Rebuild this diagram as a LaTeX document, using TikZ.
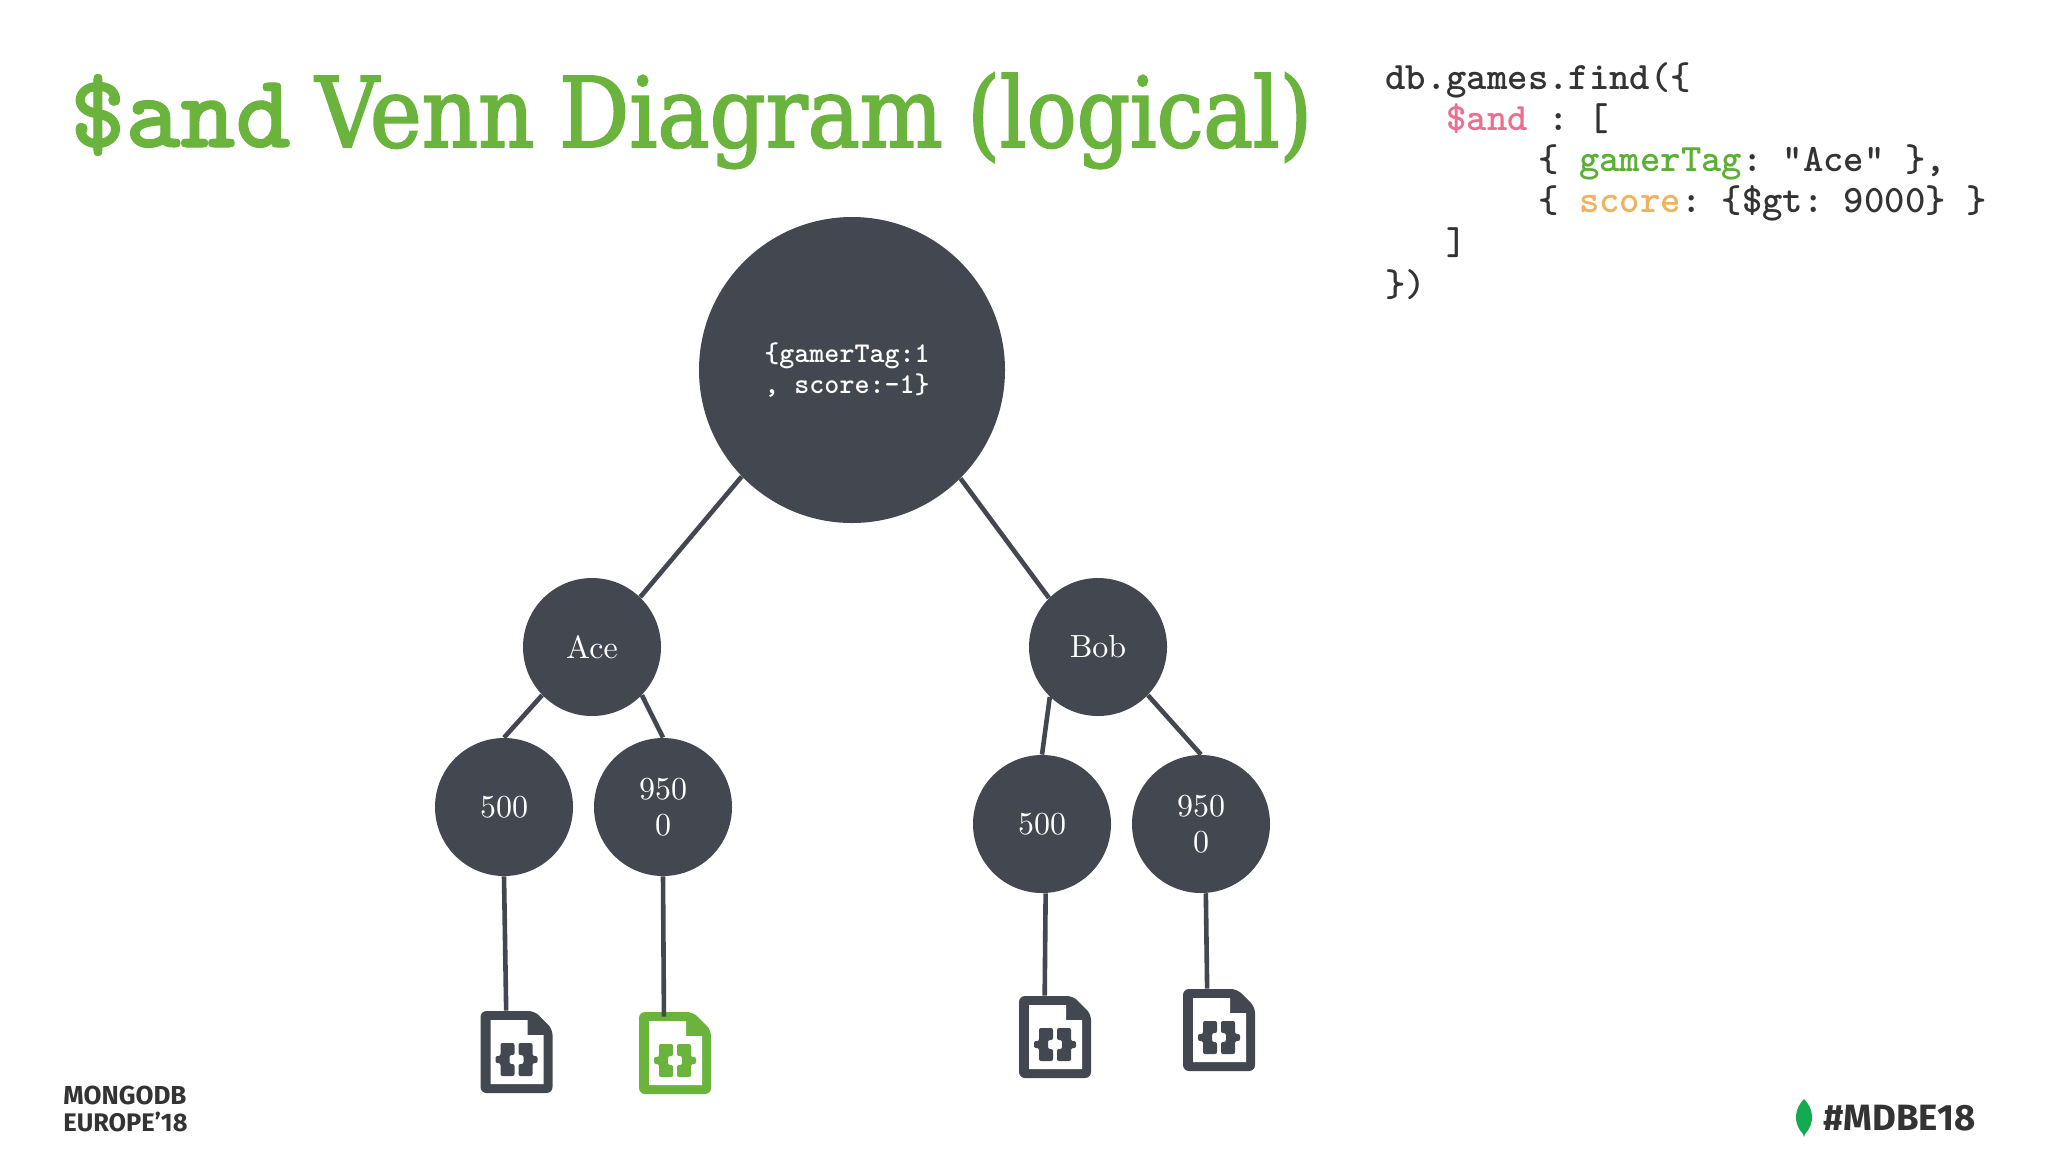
\documentclass[tikz,border=0pt]{standalone}
\usepackage{fontspec}
\newfontfamily\logofont{Fira Sans}
\newfontfamily\slabfont[FakeBold=2]{DejaVu Serif Condensed}
\newfontfamily\labelfont[Extension=.otf]{lmroman10-regular}
\newfontfamily\codefont[Extension=.otf]{lmmonolt10-bold}
\newfontfamily\heavyfont[Extension=.otf,FakeBold=1]{lmmonolt10-bold}
\definecolor{slate}{HTML}{43474F}
\definecolor{leafgreen}{HTML}{6AB43E}
\definecolor{codeink}{HTML}{333333}
\definecolor{codepink}{HTML}{EC6F8E}
\definecolor{codegreen}{HTML}{5BAF35}
\definecolor{codeorange}{HTML}{F0B25E}
\definecolor{mongoleaf}{HTML}{13AA52}
\tikzstyle{every picture}+=[>=latex, x=0.5pt, y=-0.5pt]
\tikzstyle{bignode}=[circle, fill=slate, text=white, minimum size=153pt, inner sep=0pt, align=left, font=\codefont\frenchspacing\fontsize{14.3}{15.5}\selectfont]
\tikzstyle{keynode}=[circle, fill=slate, text=white, minimum size=69pt, inner sep=0pt, align=center, font=\labelfont\fontsize{16}{18}\selectfont]
\tikzstyle{docbox}=[rectangle, minimum width=36pt, minimum height=41pt, inner sep=0pt]
\tikzstyle{link}=[slate, line width=2.3pt]
\tikzstyle{codeline}=[anchor=base west, inner sep=0pt, text=codeink, font=\codefont\frenchspacing\fontsize{19.4}{20}\selectfont]
\tikzstyle{logotext}=[anchor=base west, inner sep=0pt, text=codeink, font=\logofont\bfseries]

\begin{document}
\begin{tikzpicture}
	\newcommand\docicon[4]{
		\node[docbox] (#1) at (#2,#3) {} ;
		\begin{scope}[shift={(#1.center)}]
			\fill[#4, rounded corners=3pt] (-36,-41) -- (18,-41) -- (36,-23) -- (36,41) -- (-36,41) -- cycle ;
			\fill[white] (-26,-32) -- (11,-32) -- (11,-17) -- (27,-17) -- (27,32) -- (-26,32) -- cycle ;
			\foreach \side in {-1,1} {
				\fill[#4, xscale=\side, rounded corners=1pt] (2,-9) -- (16,-9) -- (16,4) -- (21,4) -- (21,11) -- (16,11) -- (16,24) -- (2,24) -- (2,12) -- (7,12) -- (7,3) -- (2,3) -- cycle ;
			}
		\end{scope}
	}
	\useasboundingbox (0,0) rectangle (2048,1152) ;
	\fill[white] (0,0) rectangle (2048,1152) ;

	\node[anchor=base west, inner sep=0pt, text=leafgreen] (title) at (70,147) {\fontsize{52.4}{56}\selectfont\heavyfont \$and} ;
	\node[anchor=base west, inner sep=0pt, text=leafgreen] (titleb) at (315,147) {\fontsize{48.7}{56}\selectfont\slabfont\spaceskip=12.3pt Venn Diagram \scalebox{0.95}[1]{(logical)}} ;

	\node[codeline] (codeA) at (1385,89) {db.games.find(\{} ;
	\node[codeline] (codeB) at (1446,130) {\textcolor{codepink}{\$and} : [} ;
	\node[codeline] (codeC) at (1538,171) {\{ \textcolor{codegreen}{gamerTag}: "Ace" \},} ;
	\node[codeline] (codeD) at (1538,212) {\{ \textcolor{codeorange}{score}: \{\$gt: 9000\} \}} ;
	\node[codeline] (codeE) at (1446,254) {]} ;
	\node[codeline] (codeF) at (1385,296) {\})} ;

	\node[bignode] (root) at (852,370) {\{gamerTag:1\hspace*{5pt}\\, score:-1\}\hspace*{5pt}} ;
	\node[keynode] (ace) at (592,647) {Ace} ;
	\node[keynode] (bob) at (1098,647) {Bob} ;
	\node[keynode] (leafA) at (504,807) {500} ;
	\node[keynode] (leafB) at (663,807) {950\\0} ;
	\node[keynode] (leafC) at (1042,824) {500} ;
	\node[keynode] (leafD) at (1201,824) {950\\0} ;

	\docicon{docA}{516.5}{1052}{slate}
	\docicon{docB}{675}{1053}{leafgreen}
	\docicon{docC}{1055}{1037}{slate}
	\docicon{docD}{1219}{1030}{slate}

	\draw[link] (root.224) -- (ace.46) ;
	\draw[link] (root.-45) -- (bob.135) ;
	\draw[link] (ace.224) -- (leafA.north) ;
	\draw[link] (ace.-44) -- (leafB.north) ;
	\draw[link] (bob.226) -- (leafC.north) ;
	\draw[link] (bob.-44) -- (leafD.north) ;
	\draw[link] (leafA.south) -- (docA.104) ;
	\draw[link, shorten >=-2.5pt] (leafB.south) -- (docB.105) ;
	\draw[link] (leafC.-87) -- (docC.104) ;
	\draw[link] (leafD.-86) -- (docD.106) ;

	\node[logotext, font=\logofont\bfseries\fontsize{13}{13}\selectfont] (logoA) at (63,1104) {MONGODB} ;
	\node[logotext, font=\logofont\bfseries\fontsize{12.7}{13}\selectfont] (logoB) at (63,1131) {EUROPE’18} ;
	\fill[mongoleaf] (1804,1099) .. controls (1795,1108) and (1792,1122) .. (1803,1134) -- (1804,1137) -- (1805,1134) .. controls (1816,1122) and (1813,1108) .. (1804,1099) -- cycle ;
	\node[logotext, font=\logofont\bfseries\fontsize{18.3}{18}\selectfont] (hashtag) at (1823,1130) {\#MDBE18} ;
\end{tikzpicture}
\end{document}
